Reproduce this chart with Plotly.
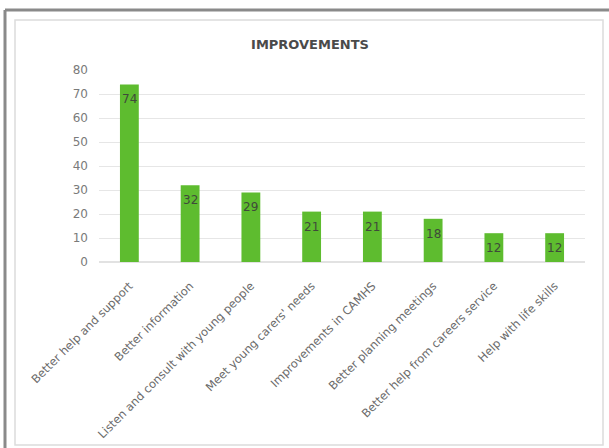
import plotly.graph_objects as go

categories = [
    "Better help and support",
    "Better information",
    "Listen and consult with young people",
    "Meet young carers' needs",
    "Improvements in CAMHS",
    "Better planning meetings",
    "Better help from careers service",
    "Help with life skills",
]
values = [74, 32, 29, 21, 21, 18, 12, 12]
y_ticks = [0, 10, 20, 30, 40, 50, 60, 70, 80]

W, H = 609, 448
L, R, T, B = 99, 24, 70, 186
pw, ph = W - L - R, H - T - B
FONT = "DejaVu Sans, Verdana, sans-serif"


def px_x(p):
    return (p - L) / pw


def px_y(p):
    return (H - B - p) / ph


fig = go.Figure(
    go.Bar(
        x=categories,
        y=values,
        marker=dict(color="#5ebc2f", line=dict(width=0)),
        width=0.31,
        hoverinfo="x+y",
    )
)

for c, v in zip(categories, values):
    fig.add_annotation(
        x=c, y=v, text=str(v), showarrow=False,
        yanchor="middle", yshift=-15,
        font=dict(family=FONT, size=12, color="#3f4a3a"),
    )

shapes = [
    dict(type="line", xref="paper", yref="paper", x0=px_x(5), x1=px_x(609), y0=px_y(10), y1=px_y(10),
         line=dict(color="#8a8a8a", width=3)),
    dict(type="line", xref="paper", yref="paper", x0=px_x(5), x1=px_x(5), y0=px_y(10), y1=px_y(448),
         line=dict(color="#8a8a8a", width=3)),
    dict(type="rect", xref="paper", yref="paper", x0=px_x(15), x1=px_x(603), y0=px_y(20), y1=px_y(445),
         line=dict(color="#dcdcdc", width=1.5), layer="below"),
]

fig.update_layout(
    width=W,
    height=H,
    margin=dict(l=L, r=R, t=T, b=B, pad=0, autoexpand=False),
    paper_bgcolor="white",
    plot_bgcolor="white",
    showlegend=False,
    title=dict(
        text="<b>IMPROVEMENTS</b>",
        x=310 / W,
        xanchor="center",
        y=1 - 44 / H,
        yanchor="middle",
        font=dict(family=FONT, size=13, color="#4a4a4a"),
    ),
    shapes=shapes,
    font=dict(family=FONT),
)

fig.update_xaxes(
    tickangle=-45,
    tickfont=dict(size=11.5, color="#6a6a6a"),
    showgrid=False,
    showline=False,
    ticks="",
    ticklabelstandoff=14,
    automargin=False,
)
fig.update_yaxes(
    range=[0, 80],
    tickvals=y_ticks,
    tickfont=dict(size=12, color="#7a7a7a"),
    showgrid=True,
    gridcolor="#e6e6e6",
    gridwidth=1,
    zeroline=True,
    zerolinecolor="#e2e2e2",
    showline=False,
    ticks="",
    ticklabelstandoff=10,
    automargin=False,
)

fig.write_html(
    "out.html",
    config={"displayModeBar": False},
    post_script="document.body.style.margin='0';document.body.style.overflow='hidden';",
)
